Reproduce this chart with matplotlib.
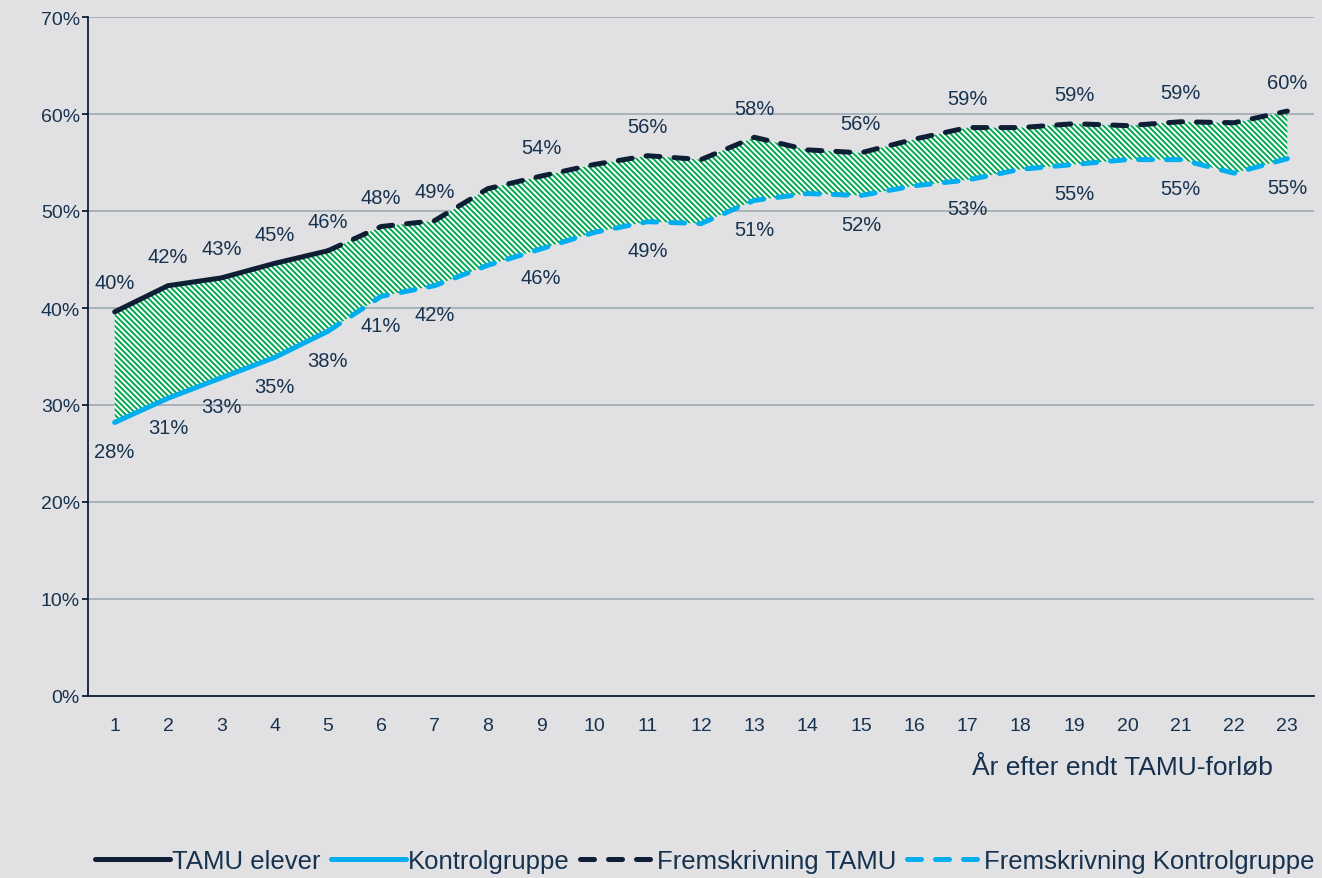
import matplotlib
matplotlib.use("Agg")
import matplotlib.pyplot as plt
import numpy as np

plt.rcParams['font.family'] = ['Liberation Sans', 'DejaVu Sans']
plt.rcParams['hatch.linewidth'] = 1.4
plt.rcParams['hatch.color'] = '#00A84F'

years = list(range(1, 24))
tamu = [39.6, 42.3, 43.1, 44.6, 45.9, 48.4, 49.0, 52.3, 53.6, 54.8, 55.7, 55.3, 57.6,
        56.3, 56.0, 57.4, 58.6, 58.6, 59.0, 58.8, 59.2, 59.1, 60.3]
kontrol = [28.2, 30.7, 32.8, 34.9, 37.6, 41.2, 42.3, 44.4, 46.1, 47.8, 48.9, 48.7, 51.1,
           51.8, 51.6, 52.6, 53.2, 54.3, 54.8, 55.3, 55.3, 53.9, 55.4]
label_years = [1, 2, 3, 4, 5, 6, 7, 9, 11, 13, 15, 17, 19, 21, 23]
split = 5  # last observed year, projection after

navy = '#0E1F35'
blue = '#00AEEF'
txt = '#17324F'
bg = '#E1E1E4'

fig = plt.figure(figsize=(13.22, 8.79), dpi=100, facecolor=bg)
ax = fig.add_axes([88/1322, 1-697/879, (1314-88)/1322, (697-18)/879])
ax.set_facecolor(bg)

x = np.array(years)
t = np.array(tamu)
k = np.array(kontrol)

ax.fill_between(x, k, t, facecolor='white', edgecolor='#00A84F', hatch='\\' * 6, linewidth=0, zorder=2)

i = split
lw = 3.6
dash = (2.8, 2.8)
ax.plot(x[:i], t[:i], color=navy, lw=lw, solid_capstyle='round', zorder=4, label='TAMU elever')
ax.plot(x[:i], k[:i], color=blue, lw=lw, solid_capstyle='round', zorder=4, label='Kontrolgruppe')
ax.plot(x[i-1:], t[i-1:], color=navy, lw=lw, dashes=dash, dash_capstyle='round', zorder=4,
        label='Fremskrivning TAMU')
ax.plot(x[i-1:], k[i-1:], color=blue, lw=lw, dashes=dash, dash_capstyle='round', zorder=4,
        label='Fremskrivning Kontrolgruppe')

for yr in label_years:
    ax.annotate(f"{tamu[yr-1]:.0f}%", (yr, tamu[yr-1]), xytext=(0, 14), textcoords='offset points',
                ha='center', va='bottom', fontsize=14.5, color=txt)
    ax.annotate(f"{kontrol[yr-1]:.0f}%", (yr, kontrol[yr-1]), xytext=(0, -14), textcoords='offset points',
                ha='center', va='top', fontsize=14.5, color=txt)

ax.set_xlim(0.5, 23.5)
ax.set_ylim(0, 70)
ax.set_xticks(years)
ax.set_yticks(range(0, 71, 10))
ax.set_yticklabels([f"{v}%" for v in range(0, 71, 10)])
ax.yaxis.grid(True, color='#A5ADB5', lw=1.3)
ax.set_axisbelow(True)
for s in ['top', 'right']:
    ax.spines[s].set_visible(False)
ax.spines['left'].set_color(navy)
ax.spines['bottom'].set_color(navy)
ax.spines['left'].set_linewidth(1.3)
ax.spines['bottom'].set_linewidth(1.3)
ax.tick_params(axis='y', length=4.3, width=1.3, color=navy, labelsize=14, labelcolor=txt, pad=1.5)
ax.tick_params(axis='x', length=0, labelsize=14, labelcolor=txt, pad=15)

fig.text(1273/1322, 1-768/879, "År efter endt TAMU-forløb", ha='right', va='center', fontsize=19, color=txt)

fig.legend(loc='center', bbox_to_anchor=(705/1322, 1-862/879), ncol=4, frameon=False, fontsize=18.5,
           handlelength=2.9, handletextpad=0.1, columnspacing=0.4, labelcolor=txt)

fig.savefig('out.png', dpi=100, facecolor=bg)
